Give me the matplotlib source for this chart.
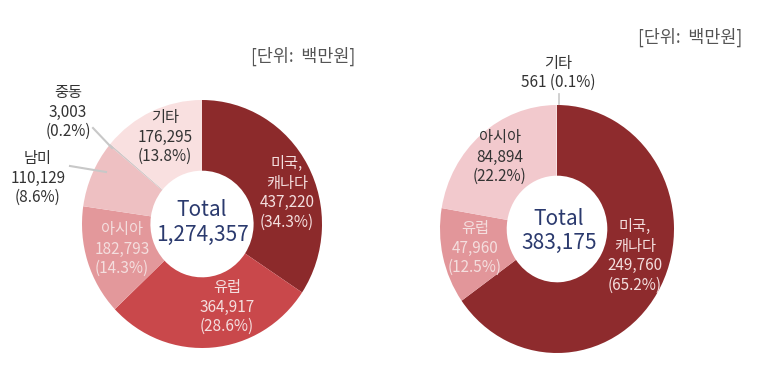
import matplotlib.pyplot as plt

plt.rcParams['font.family'] = ['Noto Sans CJK KR', 'DejaVu Sans']

# 왼쪽 도넛
left_regions = ['미국,\n캐나다', '유럽', '아시아', '남미', '중동', '기타']
left_values = [437220, 364917, 182793, 110129, 3003, 176295]
left_colors = ['#8c2a2b', '#c9484b', '#e3989b', '#eec0c2', '#cfc6c6', '#f9e0e0']

# 오른쪽 도넛
right_regions = ['미국,\n캐나다', '유럽', '아시아', '기타']
right_values = [249760, 47960, 84894, 561]
right_colors = ['#8e2b2d', '#e2969a', '#f2c9cd', '#f6dede']

unit_text = '[단위:  백만원]'

W, H = 776, 369
fig = plt.figure(figsize=(W / 100, H / 100), dpi=100)


def donut(cx, cy, rx, ry, values, colors):
    ax = fig.add_axes([(cx - rx) / W, (H - cy - ry) / H, 2 * rx / W, 2 * ry / H])
    ax.pie(values, colors=colors, startangle=90, counterclock=False,
           wedgeprops=dict(width=0.57, linewidth=0))
    ax.set_aspect('auto')
    ax.set_xlim(-1, 1)
    ax.set_ylim(-1, 1)
    ax.axis('off')
    return ax


donut(202, 224, 120, 124, left_values, left_colors)
donut(557, 229, 117, 124, right_values, right_colors)

# 텍스트용 오버레이 (픽셀 좌표)
ov = fig.add_axes([0, 0, 1, 1])
ov.set_xlim(0, W)
ov.set_ylim(H, 0)
ov.axis('off')

LIGHT = '#f4dede'
DARK = '#333333'
NAVY = '#2b3a6e'


def label(x, y, name, val, total, color, one_line=False):
    pct = val / total * 100
    if one_line:
        s = f'{name}\n{val:,} ({pct:.1f}%)'
    else:
        s = f'{name}\n{val:,}\n({pct:.1f}%)'
    ov.text(x, y, s, ha='center', va='center', color=color, fontsize=11,
            linespacing=1.2)


lt = sum(left_values)
label(287, 193, left_regions[0], left_values[0], lt, LIGHT)
label(227, 307, left_regions[1], left_values[1], lt, LIGHT)
label(122, 249, left_regions[2], left_values[2], lt, LIGHT)
label(38, 178, left_regions[3], left_values[3], lt, DARK)
label(68, 112, left_regions[4], left_values[4], lt, DARK)
label(165, 137, left_regions[5], left_values[5], lt, DARK)

# 지시선
ov.plot([93, 112], [128, 148], color='#c8c8c8', lw=1.5)
ov.plot([70, 106], [166, 172], color='#c8c8c8', lw=1.5)
ov.plot([559, 559], [94, 104], color='#c8c8c8', lw=1.2)

rt = sum(right_values)
label(635, 256, right_regions[0], right_values[0], rt, LIGHT)
label(475, 248, right_regions[1], right_values[1], rt, LIGHT)
label(500, 157, right_regions[2], right_values[2], rt, DARK)
label(558, 73, right_regions[3], right_values[3], rt, DARK, one_line=True)

ov.text(202, 210, 'Total', ha='center', va='center', color=NAVY, fontsize=15)
ov.text(202, 235, f'{lt:,}', ha='center', va='center', color=NAVY, fontsize=15)
ov.text(559, 219, 'Total', ha='center', va='center', color=NAVY, fontsize=15)
ov.text(559, 243, f'{rt:,}', ha='center', va='center', color=NAVY, fontsize=15)

ov.text(303, 56, unit_text, ha='center', va='center', color='#555555', fontsize=12.5)
ov.text(690, 37, unit_text, ha='center', va='center', color='#555555', fontsize=12.5)

fig.savefig('out.png', dpi=100, facecolor='white')
